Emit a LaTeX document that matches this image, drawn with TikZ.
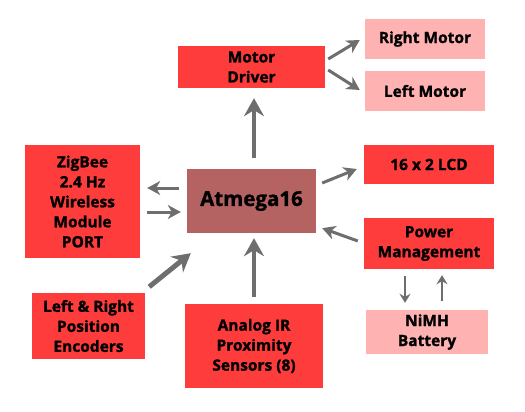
\documentclass[tikz,border=0pt]{standalone}
\usepackage{fontspec}
\setmainfont{Open Sans}[BoldFeatures={FakeBold=1.2}]
\usetikzlibrary{arrows.meta}
\definecolor{boxred}{HTML}{FF3C3C}
\definecolor{boxpink}{HTML}{FFB2B2}
\definecolor{mcubrown}{HTML}{B56262}
\definecolor{linkgray}{HTML}{6E6E6E}
\begin{document}
\begin{tikzpicture}[x=1pt,y=-1pt,
    block/.style={fill=boxred,inner sep=0pt,align=center,font=\bfseries\fontsize{15.5}{20}\selectfont},
    soft/.style={block,fill=boxpink},
    link/.style={draw=linkgray,line width=3pt,-{Stealth[length=13pt,width=14pt,inset=4pt]}},
    biglink/.style={link,line width=3.5pt,-{Stealth[length=18pt,width=20pt,inset=6pt]}},
    smalllink/.style={link,line width=2.5pt,-{Stealth[length=9pt,width=11pt,inset=3pt]}}]
    \useasboundingbox (0,0) rectangle (525,412);
    \node[block,minimum width=147pt,minimum height=42pt] (driver) at (251.5,67) {Motor\\Driver};
    \node[soft,minimum width=120pt,minimum height=40pt] (rmotor) at (425,39) {Right Motor};
    \node[soft,minimum width=120pt,minimum height=40pt] (lmotor) at (425,91) {Left Motor};
    \node[block,minimum width=115pt,minimum height=113pt] (zigbee) at (82.5,201.5) {ZigBee\\2.4 Hz\\Wireless\\Module\\PORT};
    \node[block,fill=mcubrown,minimum width=129pt,minimum height=64pt,font=\bfseries\fontsize{20.5}{24}\selectfont] (mcu) at (251.5,201) {Atmega16};
    \node[block,minimum width=130pt,minimum height=39pt] (lcd) at (429,164.5) {16 x 2 LCD};
    \node[block,minimum width=130pt,minimum height=51pt] (power) at (429,243.5) {Power\\Management};
    \node[soft,minimum width=122pt,minimum height=44pt] (battery) at (427,332) {NiMH\\Battery};
    \node[block,minimum width=113pt,minimum height=66pt] (encoders) at (88.5,326) {Left \& Right\\Position\\Encoders};
    \node[block,minimum width=138pt,minimum height=84pt] (sensors) at (254,346) {Analog IR\\Proximity\\Sensors (8)};
    \draw[biglink,shorten <=11pt,shorten >=10pt] ([xshift=2.5pt]mcu.north) to ([xshift=2.5pt]driver.south);
    \draw[link] ([xshift=3pt,yshift=8pt]driver.east) to ([xshift=-5pt,yshift=-1pt]rmotor.west);
    \draw[link] ([xshift=3pt,yshift=-3pt]driver.east) to ([xshift=-5pt,yshift=1pt]lmotor.west);
    \draw[link] ([xshift=6pt,yshift=18pt]mcu.east) to ([xshift=-7pt,yshift=-4.5pt]lcd.west);
    \draw[link] ([xshift=-8pt,yshift=13pt]mcu.west) to ([xshift=7pt,yshift=13.5pt]zigbee.east);
    \draw[link] ([xshift=7pt,yshift=-10.5pt]zigbee.east) to ([xshift=-6pt,yshift=-11pt]mcu.west);
    \draw[biglink,line width=5pt] ([xshift=4pt,yshift=6pt]encoders.north east) to ([xshift=4pt,yshift=-20pt]mcu.south west);
    \draw[biglink,shorten <=7pt,shorten >=5pt] (sensors.north) to (sensors.north |- mcu.south);
    \draw[link] ([xshift=-6pt,yshift=2.5pt]power.west) to ([xshift=6pt,yshift=5pt]mcu.south east);
    \draw[smalllink] ([xshift=-24pt,yshift=-7pt]power.south) to ([xshift=-22pt,yshift=7pt]battery.north);
    \draw[smalllink] ([xshift=15pt,yshift=9pt]battery.north) to ([xshift=13pt,yshift=-6pt]power.south);
\end{tikzpicture}
\end{document}
